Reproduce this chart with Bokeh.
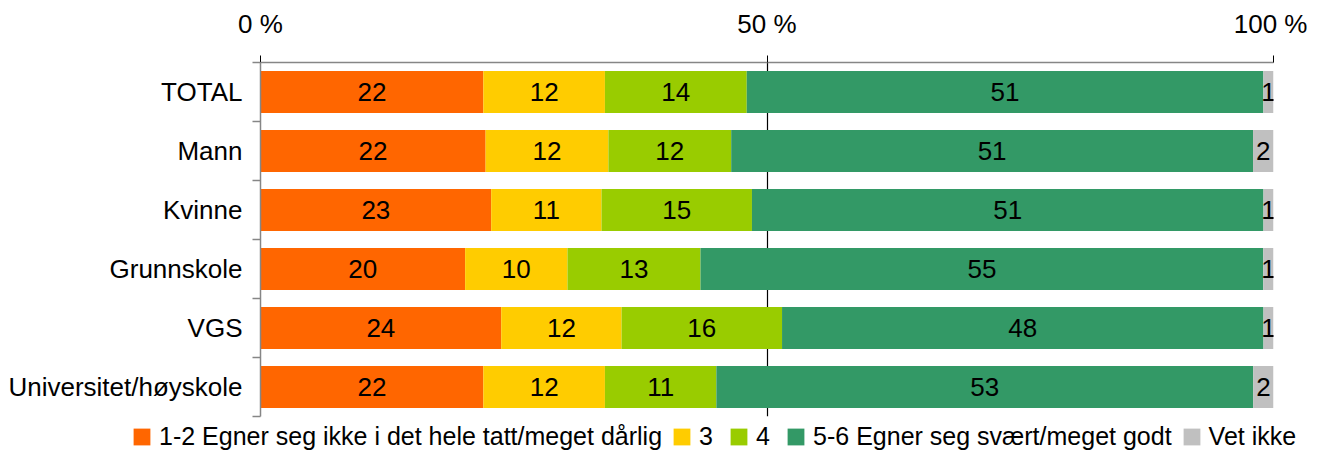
from bokeh.plotting import figure
from bokeh.layouts import column
from bokeh.models import ColumnDataSource, FixedTicker, Range1d, Legend, LegendItem
from bokeh.embed import file_html
from bokeh.resources import INLINE
from bokeh.core.properties import value

categories = ["TOTAL", "Mann", "Kvinne", "Grunnskole", "VGS", "Universitet/høyskole"]
series_names = ["1-2 Egner seg ikke i det hele tatt/meget dårlig", "3", "4",
                "5-6 Egner seg svært/meget godt", "Vet ikke"]
s12 = [22, 22, 23, 20, 24, 22]
s3 = [12, 12, 11, 10, 12, 12]
s4 = [14, 12, 15, 13, 16, 11]
s56 = [51, 51, 51, 55, 48, 53]
vet = [1, 2, 1, 1, 1, 2]
colors = ["#FF6600", "#FFCC00", "#99CC00", "#339966", "#C0C0C0"]
x_ticks = [0, 50, 100]
x_tick_labels = ["0 %", "50 %", "100 %"]

FONT = "Liberation Sans"
FS = "26px"
W = 1307
H_MAIN = 418
H_LEG = 35
series = [s12, s3, s4, s56, vet]
n = len(categories)
ys = list(range(n))
totals = [sum(s[i] for s in series) for i in range(n)]

p = figure(width=W, height=H_MAIN, output_backend="svg", toolbar_location=None,
           x_range=Range1d(0, 100), y_range=Range1d(n - 0.5, -0.5),
           x_axis_location="above",
           min_border_left=260, min_border_right=W - 260 - 1013,
           min_border_top=62, min_border_bottom=H_MAIN - 62 - 354)
p.outline_line_color = None

# top axis
xa = p.xaxis[0]
xa.ticker = FixedTicker(ticks=x_ticks, minor_ticks=[])
xa.major_label_overrides = {t: l for t, l in zip(x_ticks, x_tick_labels)}
xa.axis_line_color = "#868686"
xa.axis_line_width = 1.5
xa.major_tick_line_color = "black"
xa.major_tick_in = 0
xa.major_tick_out = 7
xa.minor_tick_line_color = None
xa.major_label_text_font = FONT
xa.major_label_text_font_size = FS
xa.major_label_text_color = "black"
xa.major_label_standoff = 17

# left axis
ya = p.yaxis[0]
ya.ticker = FixedTicker(ticks=ys, minor_ticks=[y - 0.5 for y in ys] + [n - 0.5])
ya.major_label_overrides = {y: c for y, c in zip(ys, categories)}
ya.axis_line_color = "#868686"
ya.axis_line_width = 1.5
ya.major_tick_line_color = None
ya.major_tick_in = 0
ya.major_tick_out = 0
ya.minor_tick_line_color = "#868686"
ya.minor_tick_line_width = 1.5
ya.minor_tick_in = 0
ya.minor_tick_out = 8
ya.major_label_text_font = FONT
ya.major_label_text_font_size = FS
ya.major_label_text_color = "black"
ya.major_label_standoff = 10

p.ygrid.visible = False
p.xgrid[0].ticker = FixedTicker(ticks=[t for t in x_ticks if t > 0])
p.xgrid[0].grid_line_color = "black"
p.xgrid[0].grid_line_width = 1.2

# legend strip (its own frame, so the legend is not clipped by the chart frame)
pl = figure(width=W, height=H_LEG, output_backend="svg", toolbar_location=None,
            x_range=Range1d(-3, -2), y_range=Range1d(-0.5, n - 0.5),
            x_axis_type=None, y_axis_type=None,
            min_border_left=0, min_border_right=0, min_border_top=0, min_border_bottom=0)
pl.frame_align = False
pl.outline_line_color = None
pl.grid.visible = False

items = []
cum = [0.0] * n
for name, vals, col in zip(series_names, series, colors):
    shares = [v / t * 100 for v, t in zip(vals, totals)]
    left = cum[:]
    right = [a + b for a, b in zip(left, shares)]
    cum = right
    src = ColumnDataSource(dict(y=ys, left=left, right=right,
                                mid=[(a + b) / 2 for a, b in zip(left, right)],
                                lab=[str(v) for v in vals]))
    p.hbar(y="y", left="left", right="right", height=0.71, source=src,
           fill_color=col, line_color=None)
    p.text(x="mid", y="y", text="lab", source=src, text_align="center",
           text_baseline="middle", text_font=value(FONT), text_font_size=FS,
           text_color="black")
    lr = pl.hbar(y="y", left="left", right="right", height=0.71, source=src,
                 fill_color=col, line_color=None)
    items.append(LegendItem(label=name, renderers=[lr]))

legend = Legend(items=items, orientation="horizontal", location=(131, 2),
                glyph_width=21, glyph_height=21, label_standoff=7, spacing=9,
                padding=0, margin=0, border_line_color=None, background_fill_alpha=0,
                label_text_font=FONT, label_text_font_size="25px", label_height=26,
                label_text_color="black")
pl.add_layout(legend)

open("out.html", "w").write(file_html(column(p, pl, spacing=0), INLINE))
